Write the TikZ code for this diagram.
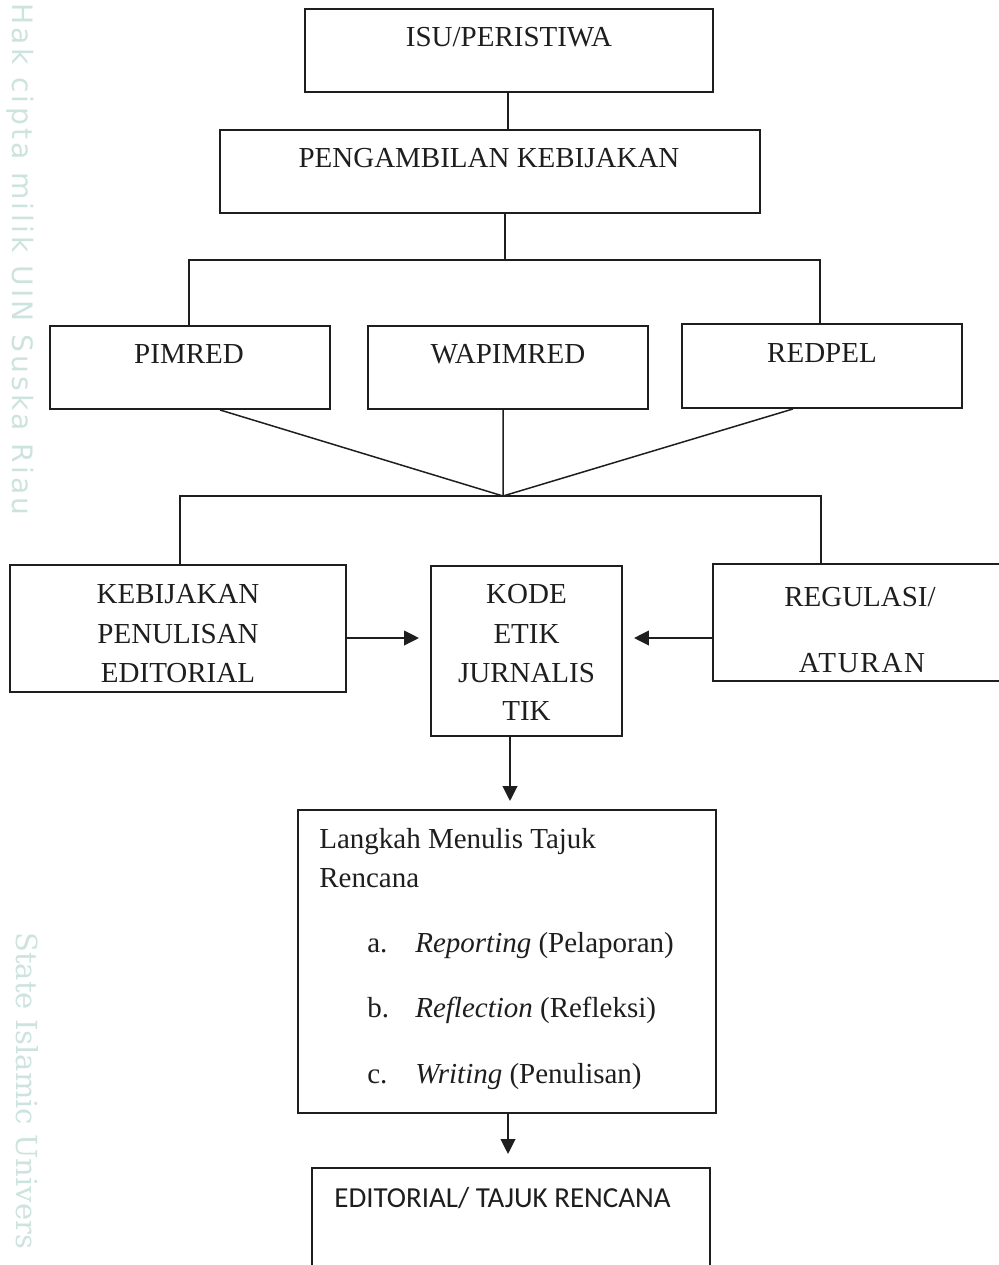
\documentclass[tikz,border=0pt]{standalone}
\usepackage{fontspec}
\setmainfont{Liberation Serif}
\newfontfamily\carlitofont{Carlito}
\newfontfamily\wmsansfont{DejaVu Sans}[LetterSpace=12]
\newfontfamily\wmseriffont{DejaVu Serif}
\usetikzlibrary{arrows.meta}
\definecolor{ink}{RGB}{30,30,30}
\definecolor{wmark}{RGB}{205,227,222}
\tikzset{
  box/.style={draw=ink, line width=1.1pt, rectangle, inner sep=0pt, fill=none},
  lbl/.style={anchor=base, inner sep=0pt, text=ink, font=\fontsize{16.5}{19}\selectfont},
  lblw/.style={lbl, anchor=base west},
  conn/.style={draw=ink, line width=0.85pt},
  arr/.style={draw=ink, line width=1.4pt, -{Triangle[length=0.3cm,width=0.29cm]}},
  wm/.style={inner sep=0pt, text=wmark, rotate=-90, anchor=base west}
}
\begin{document}
\begin{tikzpicture}[x=0.02cm, y=-0.02cm]
\useasboundingbox (0,0) rectangle (998,1265);
% watermark text
\node[wm, font=\wmsansfont\fontsize{16}{18}\selectfont] (wm1) at (12,3) {Hak cipta milik UIN Suska Riau};
\node[wm, font=\wmseriffont\fontsize{16.5}{18}\selectfont] (wm2) at (16,932) {State Islamic Univers};
% boxes
\node[box, minimum width=8.16cm, minimum height=1.66cm] (isu) at (509,50.5) {};
\node[box, minimum width=10.8cm, minimum height=1.66cm] (peng) at (490,171.5) {};
\node[box, minimum width=5.6cm, minimum height=1.66cm] (pimred) at (190,367.5) {};
\node[box, minimum width=5.6cm, minimum height=1.66cm] (wapimred) at (508,367.5) {};
\node[box, minimum width=5.6cm, minimum height=1.68cm] (redpel) at (822,366) {};
\node[box, minimum width=6.72cm, minimum height=2.54cm] (keb) at (178,628.5) {};
\node[box, minimum width=3.82cm, minimum height=3.4cm] (kode) at (526.5,651) {};
\node[box, minimum width=6.14cm, minimum height=2.34cm] (reg) at (866.5,622.5) {};
\node[box, minimum width=8.36cm, minimum height=6.06cm] (langkah) at (507,961.5) {};
\node[box, minimum width=7.96cm, minimum height=2.64cm] (edit) at (511,1234) {};
% texts
\node[lbl] (isuT) at (509,46) {ISU/PERISTIWA};
\node[lbl] (pengT) at (489,167) {PENGAMBILAN KEBIJAKAN};
\node[lbl] (pimT) at (189,363) {PIMRED};
\node[lbl] (wapT) at (508,363) {WAPIMRED};
\node[lbl] (redT) at (822,362) {REDPEL};
\node[lbl] (kebT1) at (178,603) {KEBIJAKAN};
\node[lbl] (kebT2) at (178,643) {PENULISAN};
\node[lbl] (kebT3) at (178,682) {EDITORIAL};
\node[lbl] (kodeT1) at (526.5,603) {KODE};
\node[lbl] (kodeT2) at (526.5,643) {ETIK};
\node[lbl] (kodeT3) at (526.5,682) {JURNALIS};
\node[lbl] (kodeT4) at (526.5,720) {TIK};
\node[lbl] (regT1) at (860,606) {REGULASI/};
\node[lbl, font=\fontsize{16.5}{19}\selectfont\addfontfeature{LetterSpace=6}] (regT2) at (862,672) {ATURAN};
\node[lblw] (lgT1) at (319,848) {Langkah Menulis Tajuk};
\node[lblw] (lgT2) at (319,887) {Rencana};
\node[lblw] (lgA) at (367,952) {a.};
\node[lblw] (lgAT) at (415,952) {\textit{Reporting} (Pelaporan)};
\node[lblw] (lgB) at (367,1017) {b.};
\node[lblw] (lgBT) at (415,1017) {\textit{Reflection} (Refleksi)};
\node[lblw] (lgC) at (367,1083) {c.};
\node[lblw] (lgCT) at (415,1083) {\textit{Writing} (Penulisan)};
\node[lblw, font=\carlitofont\fontsize{16.5}{19}\selectfont] (editT) at (334,1207) {EDITORIAL/ TAJUK RENCANA};
% junction coordinates
\coordinate (j1) at (505,260);
\coordinate (jl) at (189,260);
\coordinate (jr) at (820,260);
\coordinate (j2) at (503,496);
\coordinate (kl) at (180,496);
\coordinate (kr) at (821,496);
\coordinate (ay) at (0,638);
\coordinate (dx1) at (510,0);
\coordinate (dx2) at (508,0);
% connectors
\draw[conn] (isu.south -| dx2) -- (peng.north -| dx2);
\draw[conn] (j1 |- peng.south) -- (j1);
\draw[conn] (jl |- pimred.north) -- (jl) -- (jr) -- (jr |- redpel.north);
\draw[conn] ([xshift=0.6cm]pimred.south) -- (j2);
\draw[conn] ([xshift=-0.1cm]wapimred.south) -- (j2);
\draw[conn] ([xshift=-0.58cm]redpel.south) -- (j2);
\draw[conn] (kl |- keb.north) -- (kl) -- (kr) -- (kr |- reg.north);
\draw[arr, shorten >=0.22cm] (keb.east |- ay) -- (kode.west |- ay);
\draw[arr, shorten >=0.22cm] (reg.west |- ay) -- (kode.east |- ay);
\draw[arr, shorten >=0.16cm] (dx1 |- kode.south) -- (dx1 |- langkah.north);
\draw[arr, shorten >=0.26cm] (dx2 |- langkah.south) -- (dx2 |- edit.north);
\end{tikzpicture}
\end{document}
